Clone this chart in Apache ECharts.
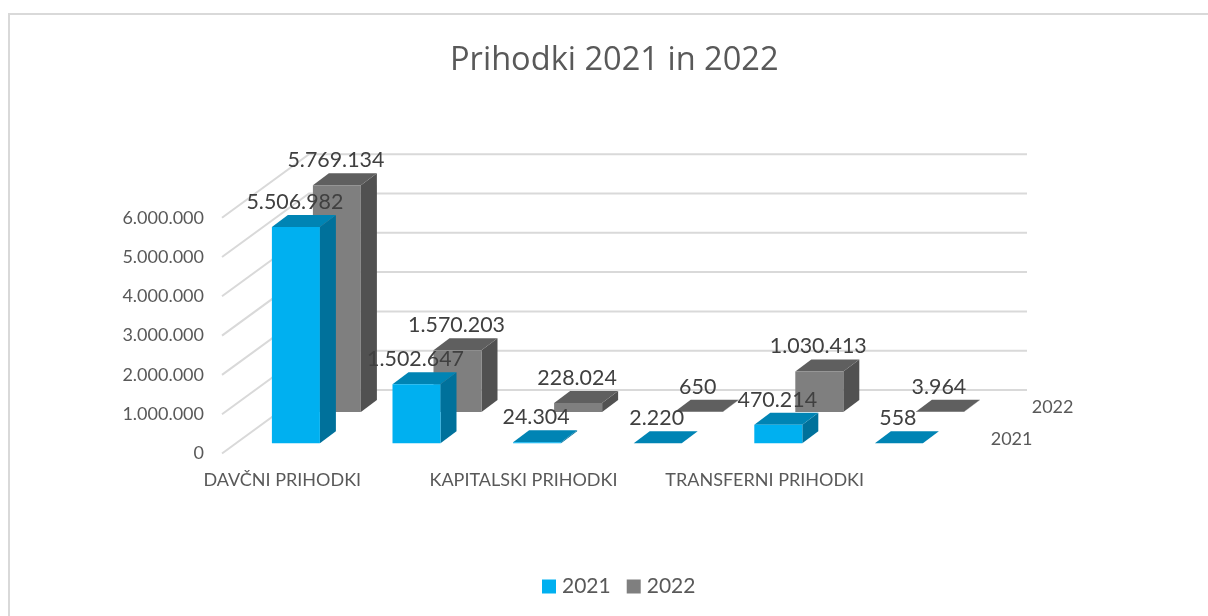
<!DOCTYPE html>
<html><head><meta charset="utf-8">
<style>html,body{margin:0;padding:0;background:#fff}#c{width:1208px;height:616px}</style>
<script src="https://cdn.jsdelivr.net/npm/echarts@6/dist/echarts.min.js"></script>
</head><body><div id="c"></div>
<script>
const categories = ['DAVČNI PRIHODKI','NEDAVČNI PRIHODKI','KAPITALSKI PRIHODKI','PREJETE DONACIJE','TRANSFERNI PRIHODKI','PREJETA SREDSTVA IZ EU'];
const values2021 = [5506982,1502647,24304,2220,470214,558];
const values2022 = [5769134,1570203,228024,650,1030413,3964];
const wallTicks = [0,1000000,2000000,3000000,4000000,5000000,6000000];

const fmt = v => String(v).replace(/\B(?=(\d{3})+(?!\d))/g,'.');
const LATO = 'Lato, Carlito, sans-serif';
const BAR_W = 48, SIDE_DX = 16, SIDE_DY = -12, WALL_DX = 87, WALL_DY = -63.5, WALL_TRIM = 5.6;

function barSeries(name, values, off, front, top, side) {
  return {
    type:'custom', name, coordinateSystem:'cartesian2d', clip:false,
    itemStyle:{color:front},
    encode:{x:0,y:1},
    data: values.map((v,i)=>[i,v]),
    renderItem(params, api){
      const i = api.value(0), v = api.value(1);
      const p = api.coord([i,v]), b = api.coord([i,0]);
      const l = p[0]+off[0]-BAR_W/2, r = l+BAR_W;
      const yt = p[1]+off[1], yb = b[1]+off[1];
      const sx = SIDE_DX, sy = SIDE_DY;
      const children = [
        {type:'polygon',shape:{points:[[r,yt],[r+sx,yt+sy],[r+sx,yb+sy],[r,yb]]},style:{fill:side}},
        {type:'polygon',shape:{points:[[l,yt],[l+sx,yt+sy],[r+sx,yt+sy],[r,yt]]},style:{fill:top}},
        {type:'rect',shape:{x:l,y:yt,width:BAR_W,height:Math.max(yb-yt,0)},style:{fill:front}},
        {type:'text',z2:100,style:{text:fmt(v),x:(l+r)/2-1,y:yt+sy-13,align:'center',verticalAlign:'middle',
          font:'21.4px '+LATO,fill:'#404040'}}
      ];
      if (params.dataIndex === values.length-1) {
        children.push({type:'text',style:{text:name,x:b[0]+off[0]+112.7,y:b[1]+off[1]-4.5,align:'center',verticalAlign:'middle',
          font:'18px '+LATO,fill:'#595959'}});
      }
      return {type:'group',children};
    }
  };
}

const wall = {
  type:'custom', name:'wall', coordinateSystem:'cartesian2d', clip:false, silent:true, z:1,
  encode:{x:0,y:1},
  data: wallTicks.map(v=>[0,v]),
  renderItem(params, api){
    const y = api.coord([0,api.value(1)])[1];
    const cs = params.coordSys;
    const x0 = cs.x, x1 = cs.x+WALL_DX, x2 = cs.x+cs.width+WALL_DX-WALL_TRIM, y1 = y+WALL_DY;
    return {type:'polyline',shape:{points:[[x0,y],[x1,y1],[x2,y1]]},style:{fill:null,stroke:'#D9D9D9',lineWidth:2}};
  }
};

const chart = echarts.init(document.getElementById('c'),null,{renderer:'canvas'});
chart.setOption({
  backgroundColor:'#fff',
  animation:false,
  title:{text:'Prihodki 2021 in 2022',top:44,left:450,padding:0,textStyle:{fontFamily:'Open Sans',fontSize:32.6,fontWeight:'normal',color:'#595959'}},
  legend:{data:['2021','2022'],left:542,top:576,padding:0,itemWidth:14,itemHeight:14,itemGap:16,icon:'rect',
    textStyle:{fontFamily:LATO,fontSize:21,color:'#595959',padding:[0,0,0,1]}},
  grid:{left:222,top:217.7,width:723.6,height:235.8},
  xAxis:{type:'category',data:categories,axisLine:{show:false},axisTick:{show:false},splitLine:{show:false},
    axisLabel:{interval:1,margin:18,fontFamily:LATO,fontSize:18,color:'#595959'}},
  yAxis:{type:'value',min:0,max:6000000,interval:1000000,axisLine:{show:false},axisTick:{show:false},splitLine:{show:false},
    axisLabel:{margin:18,padding:[2,0,0,0],fontFamily:LATO,fontSize:18,color:'#595959',formatter:v=>fmt(v)}},
  graphic:[{type:'rect',silent:true,z:-1,shape:{x:9,y:14,width:1300,height:700},style:{fill:null,stroke:'#D9D9D9',lineWidth:2}}],
  series:[
    wall,
    barSeries('2022',values2022,[54.6,-41.6],'#7F7F7F','#5F5F5F','#515151'),
    barSeries('2021',values2021,[13.6,-10.2],'#00B0F0','#0084B4','#00719B')
  ]
});
</script></body></html>
